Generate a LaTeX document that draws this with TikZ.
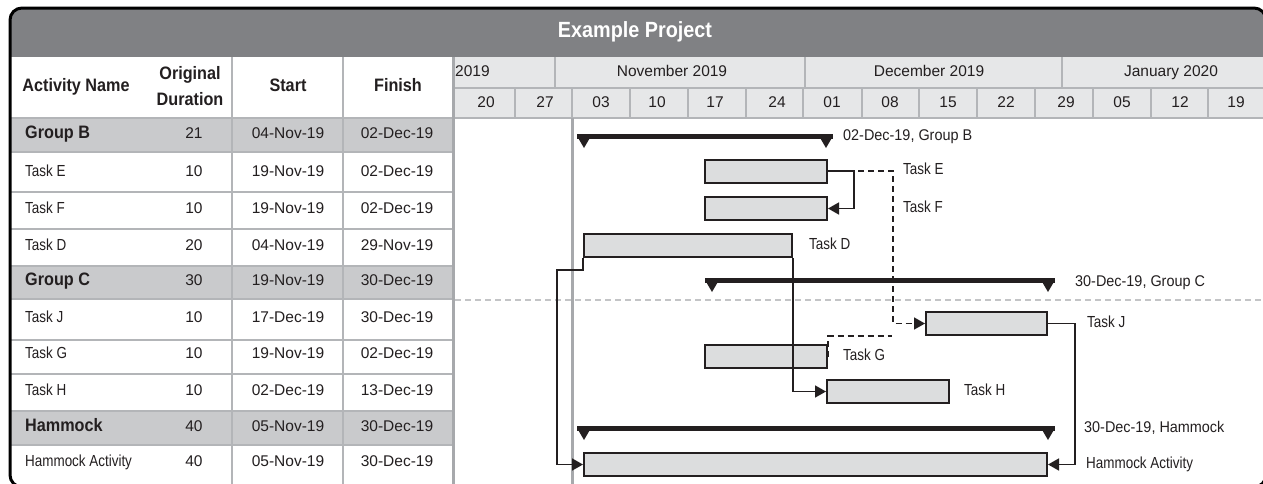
\documentclass[tikz,border=0pt]{standalone}
\usepackage{fontspec}
\setmainfont{Liberation Sans}
\newfontfamily\lblfont{Liberation Sans}[FakeStretch=0.84]
\newfontfamily\mixfont{Liberation Sans}[FakeStretch=0.93]
\newfontfamily\hfont{Liberation Sans}[FakeStretch=0.9]
\usetikzlibrary{arrows.meta}
\definecolor{titlegray}{HTML}{808184}
\definecolor{grpgray}{HTML}{C9CACC}
\definecolor{hdrgray}{HTML}{E6E7E8}
\definecolor{gridgray}{HTML}{B3B5B8}
\definecolor{datagray}{HTML}{A7A9AC}
\definecolor{dashgray}{HTML}{C3C4C6}
\definecolor{bargray}{HTML}{DCDDDE}
\definecolor{ink}{HTML}{231F20}
\tikzset{
 txt/.style={inner sep=0pt, text height=0.716em, text depth=0pt, font=\fontsize{15.5}{17}\selectfont, text=ink},
 lbl/.style={txt, font=\lblfont\fontsize{16}{18}\selectfont},
 mix/.style={txt, font=\mixfont\fontsize{15.5}{17}\selectfont},
 hdr/.style={txt, font=\hfont\bfseries\fontsize{18}{26}\selectfont},
 grp/.style={txt, font=\hfont\bfseries\fontsize{18}{20}\selectfont},
 bar/.style={draw=ink, line width=2pt, fill=bargray, inner sep=0pt, minimum height=23pt},
 conn/.style={draw=ink, line width=1.6pt, -{Triangle[length=11pt,width=12pt]}},
 dconn/.style={conn, dash pattern=on 6pt off 4pt},
 grid/.style={draw=gridgray, line width=1.8pt},
 sumbar/.style={fill=ink},
}
\begin{document}
\begin{tikzpicture}[x=1pt,y=-1pt]
\useasboundingbox (0,0) rectangle (1263,483);
% title bar
\fill[titlegray, rounded corners=12pt] (10,8) rectangle (1266,90);
\fill[white] (10,57) rectangle (452,486);
\fill[hdrgray] (452,57) rectangle (1266,118);
\fill[white] (452,118) rectangle (1266,486);
\node[txt, text=white, font=\hfont\bfseries\fontsize{22}{24}\selectfont] (title) at (635,34) {Example Project};
% group rows
\fill[grpgray] (10,118) rectangle (452,152);
\fill[grpgray] (10,266) rectangle (452,299);
\fill[grpgray] (10,411) rectangle (452,445);
% table grid
\foreach \yy in {118,152,192,229,266,299,340,374,411,445}
  \draw[grid] (10,\yy) -- (452,\yy);
\foreach \xx in {232,343}
  \draw[grid] (\xx,57) -- (\xx,486);
% chart header grid
\draw[grid] (452,88) -- (1266,88);
\draw[grid] (452,118) -- (1266,118);
\foreach \xx in {555,805,1062}
  \draw[grid] (\xx,57) -- (\xx,88);
\foreach \xx in {515,572,630,688,746,803,862,919,977,1035,1093,1151,1208}
  \draw[grid] (\xx,88) -- (\xx,118);
% separators
\draw[datagray, line width=3pt] (453.5,57) -- (453.5,486);
\draw[datagray, line width=3pt] (572,118) -- (572,486);
\draw[dashgray, line width=1.2pt, dash pattern=on 6pt off 4pt] (455,300) -- (1266,300);
% header texts
\node[hdr] (hname) at (76,88) {Activity Name};
\node[hdr, align=center, text height=, text depth=] (hdur) at (190,86) {Original\\Duration};
\node[hdr] (hstart) at (288,88) {Start};
\node[hdr] (hfinish) at (398,88) {Finish};
\node[txt, anchor=west] (m0) at (455,73) {2019};
\node[txt] (m1) at (672,73) {November 2019};
\node[txt] (m2) at (929,73) {December 2019};
\node[txt] (m3) at (1171,73) {January 2020};
\foreach \xx/\w in {486/20,545/27,601/03,657/10,715/17,777/24,832/01,890/08,948/15,1006/22,1066/29,1122/05,1180/12,1236/19}
  \node[txt] at (\xx,103.5) {\w};
% rows
\foreach \yy/\n/\d/\s/\f in {173/Task E/10/19-Nov-19/02-Dec-19, 210/Task F/10/19-Nov-19/02-Dec-19, 247/Task D/20/04-Nov-19/29-Nov-19, 319/Task J/10/17-Dec-19/30-Dec-19, 355/Task G/10/19-Nov-19/02-Dec-19, 392/Task H/10/02-Dec-19/13-Dec-19, 463/Hammock Activity/40/05-Nov-19/30-Dec-19}{
  \node[lbl, anchor=west] at (25,\yy) {\n};
  \node[txt] at (194,\yy) {\d};
  \node[txt] at (288,\yy) {\s};
  \node[txt] at (397,\yy) {\f};
}
\foreach \yy/\n/\d/\s/\f in {135/Group B/21/04-Nov-19/02-Dec-19, 282/Group C/30/19-Nov-19/30-Dec-19, 428/Hammock/40/05-Nov-19/30-Dec-19}{
  \node[grp, anchor=west] at (25,\yy) {\n};
  \node[txt] at (194,\yy) {\d};
  \node[txt] at (288,\yy) {\s};
  \node[txt] at (397,\yy) {\f};
}
% summary bars
\foreach \xa/\xb/\yy in {577/833/134, 705/1055/278, 577/1055/426}{
  \fill[sumbar] (\xa,\yy) rectangle (\xb,\yy+5);
  \fill[sumbar] (\xa,\yy+2) -- (\xa+14,\yy+2) -- (\xa+7,\yy+14) -- cycle;
  \fill[sumbar] (\xb-14,\yy+2) -- (\xb,\yy+2) -- (\xb-7,\yy+14) -- cycle;
}
% task bars
\node[bar, minimum width=122pt] (E) at (766,171) {};
\node[bar, minimum width=122pt] (F) at (766,208.5) {};
\node[bar, minimum width=208pt] (D) at (688,245.5) {};
\node[bar, minimum width=121pt] (J) at (986.5,323.5) {};
\node[bar, minimum width=122pt] (G) at (766,356.5) {};
\node[bar, minimum width=122pt] (H) at (888,391.5) {};
\node[bar, minimum width=463pt] (HA) at (815.5,464.5) {};
% chart labels
\node[mix, anchor=west] (lB) at (843,137) {02-Dec-19, Group B};
\node[lbl, anchor=west] (lE) at (903,171) {Task E};
\node[lbl, anchor=west] (lF) at (903,209) {Task F};
\node[lbl, anchor=west] (lD) at (809,246) {Task D};
\node[mix, anchor=west] (lC) at (1075,283) {30-Dec-19, Group C};
\node[lbl, anchor=west] (lJ) at (1087,324) {Task J};
\node[lbl, anchor=west] (lG) at (843,357) {Task G};
\node[lbl, anchor=west] (lH) at (964,392) {Task H};
\node[mix, anchor=west] (lHm) at (1084,429) {30-Dec-19, Hammock};
\node[lbl, anchor=west] (lHA) at (1086,465) {Hammock Activity};
% connectors
\draw[dconn] (E.east) -- ++(65,0) |- (J.west);
\draw[dconn, -] (G.east) |- (892,336);
\draw[conn] (E.east) -- ++(26,0) |- (F.east);
\draw[conn] (D.south east) |- (H.west);
\draw[conn] (D.south west) -- ++(0,12) -- ++(-26,0) |- (HA.west);
\draw[conn] (J.east) -- ++(27,0) |- (HA.east);
% frame
\draw[black, line width=3pt, rounded corners=12pt] (10,8) rectangle (1266,487);
\end{tikzpicture}
\end{document}
